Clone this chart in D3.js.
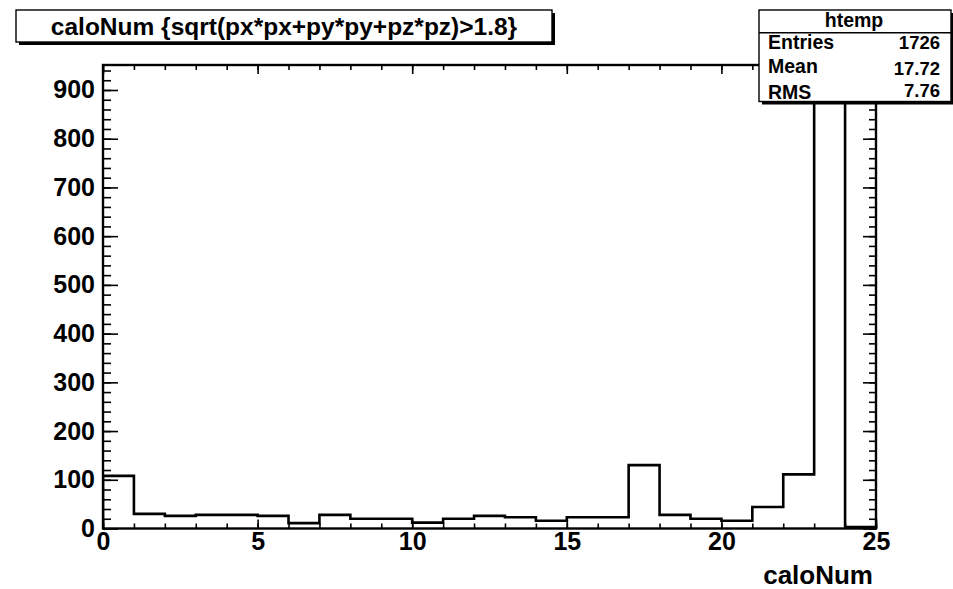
<!DOCTYPE html>
<html>
<head>
<meta charset="utf-8">
<script src="https://cdn.jsdelivr.net/npm/d3@7"></script>
<style>
  html, body { margin: 0; padding: 0; background: #fff; }
  svg { display: block; }
  text { font-family: "Liberation Sans", Arial, sans-serif; font-weight: bold; fill: #000; }
</style>
</head>
<body>
<svg id="chart" width="953" height="589"></svg>
<script>
// caloNum histogram: 25 unit-wide bins from 0 to 25
const binEdges = [0, 25];
const binCounts = [108, 30, 26, 28, 28, 26, 11, 28, 20, 20, 12, 20, 26, 23, 16, 23, 23, 130, 28, 20, 16, 44, 111, 906, 3];
const xTickLabels = [0, 5, 10, 15, 20, 25];
const yTickLabels = [0, 100, 200, 300, 400, 500, 600, 700, 800, 900];
const titleText = "caloNum {sqrt(px*px+py*py+pz*pz)>1.8}";
const histName = "htemp";
const xTitle = "caloNum";

const svg = d3.select("#chart");
const W = 953, H = 589;
const frame = { left: 103, right: 876, top: 65, bottom: 528.5 };
const FONT = '"Liberation Sans", Arial, sans-serif';

svg.append("rect").attr("width", W).attr("height", H).attr("fill", "#fff");

const nBins = binCounts.length;
const binWidth = (binEdges[1] - binEdges[0]) / nBins;
const yMax = d3.max(binCounts) * 1.05;

const x = d3.scaleLinear().domain(binEdges).range([frame.left, frame.right]);
const y = d3.scaleLinear().domain([0, yMax]).range([frame.bottom, frame.top]);

// statistics from the bin contents (bin value = lower edge, integer caloNum)
const entries = d3.sum(binCounts);
const mean = d3.sum(binCounts, (c, i) => c * (binEdges[0] + i * binWidth)) / entries;
const meanSq = d3.sum(binCounts, (c, i) => c * Math.pow(binEdges[0] + i * binWidth, 2)) / entries;
const rms = Math.sqrt(meanSq - mean * mean);

// histogram outline (step line)
const clipId = "frameClip";
svg.append("clipPath").attr("id", clipId)
  .append("rect")
  .attr("x", frame.left).attr("y", frame.top)
  .attr("width", frame.right - frame.left).attr("height", frame.bottom - frame.top);

const path = d3.path();
path.moveTo(x(binEdges[0]), y(0));
binCounts.forEach((c, i) => {
  const x0 = x(binEdges[0] + i * binWidth);
  const x1 = x(binEdges[0] + (i + 1) * binWidth);
  path.lineTo(x0, y(c));
  path.lineTo(x1, y(c));
});
path.lineTo(x(binEdges[1]), y(0));

svg.append("path")
  .attr("d", path.toString())
  .attr("clip-path", `url(#${clipId})`)
  .attr("fill", "none")
  .attr("stroke", "#000")
  .attr("stroke-width", 2.6)
  .attr("stroke-linejoin", "miter");

// axes: ticks on all four sides, pointing inward
const yMinor = d3.range(0, yMax + 0.001, 20);
const xMinor = d3.range(binEdges[0], binEdges[1] + 0.001, 1);

function styleAxis(g) {
  g.select(".domain").remove();
  g.selectAll(".tick line").attr("stroke", "#000").attr("stroke-width", 1.6);
  g.attr("font-family", FONT).attr("font-weight", "bold");
}

// left
svg.append("g").attr("transform", `translate(${frame.left},0)`)
  .call(d3.axisLeft(y).tickValues(yMinor).tickSize(-8).tickFormat(""))
  .call(styleAxis);
svg.append("g").attr("transform", `translate(${frame.left},0)`)
  .call(d3.axisLeft(y).tickValues(yTickLabels).tickSize(-15).tickPadding(8).tickFormat(d3.format("d")))
  .call(styleAxis)
  .call(g => g.selectAll("text").attr("font-size", 25).attr("fill", "#000"));

// right
svg.append("g").attr("transform", `translate(${frame.right},0)`)
  .call(d3.axisRight(y).tickValues(yMinor).tickSize(-7).tickFormat(""))
  .call(styleAxis);
svg.append("g").attr("transform", `translate(${frame.right},0)`)
  .call(d3.axisRight(y).tickValues(yTickLabels).tickSize(-13).tickFormat(""))
  .call(styleAxis);

// bottom
svg.append("g").attr("transform", `translate(0,${frame.bottom})`)
  .call(d3.axisBottom(x).tickValues(xMinor).tickSize(-5).tickFormat(""))
  .call(styleAxis);
svg.append("g").attr("transform", `translate(0,${frame.bottom})`)
  .call(d3.axisBottom(x).tickValues(xTickLabels).tickSize(-9).tickPadding(4).tickFormat(d3.format("d")))
  .call(styleAxis)
  .call(g => g.selectAll("text").attr("font-size", 25).attr("fill", "#000"));

// top
svg.append("g").attr("transform", `translate(0,${frame.top})`)
  .call(d3.axisTop(x).tickValues(xMinor).tickSize(-5).tickFormat(""))
  .call(styleAxis);
svg.append("g").attr("transform", `translate(0,${frame.top})`)
  .call(d3.axisTop(x).tickValues(xTickLabels).tickSize(-9).tickFormat(""))
  .call(styleAxis);

// frame
svg.append("rect")
  .attr("x", frame.left).attr("y", frame.top)
  .attr("width", frame.right - frame.left).attr("height", frame.bottom - frame.top)
  .attr("fill", "none").attr("stroke", "#000").attr("stroke-width", 2.4);

// x-axis title
svg.append("text")
  .attr("x", 873).attr("y", 584)
  .attr("text-anchor", "end")
  .attr("font-size", 26)
  .text(xTitle);

// title box with drop shadow
const tb = { x: 16, y: 10, w: 536, h: 32 };
svg.append("rect").attr("x", tb.x + 3).attr("y", tb.y + 3).attr("width", tb.w).attr("height", tb.h).attr("fill", "#000");
svg.append("rect").attr("x", tb.x).attr("y", tb.y).attr("width", tb.w).attr("height", tb.h)
  .attr("fill", "#fff").attr("stroke", "#000").attr("stroke-width", 1.4);
svg.append("text")
  .attr("x", 284).attr("y", 35)
  .attr("text-anchor", "middle")
  .attr("font-size", 24.5)
  .text(titleText);

// statistics box with drop shadow
const sb = { x: 759, y: 10, w: 192, h: 91.5 };
svg.append("rect").attr("x", sb.x + 3).attr("y", sb.y + 3).attr("width", sb.w).attr("height", sb.h).attr("fill", "#000");
svg.append("rect").attr("x", sb.x).attr("y", sb.y).attr("width", sb.w).attr("height", sb.h)
  .attr("fill", "#fff").attr("stroke", "#000").attr("stroke-width", 1.4);
svg.append("line")
  .attr("x1", sb.x).attr("x2", sb.x + sb.w)
  .attr("y1", 32.7).attr("y2", 32.7)
  .attr("stroke", "#000").attr("stroke-width", 1.4);
svg.append("text")
  .attr("x", 854).attr("y", 26.5)
  .attr("text-anchor", "middle")
  .attr("font-size", 19.5)
  .text(histName);

const statRows = [
  { label: "Entries", value: d3.format("d")(entries), ly: 49.3, vy: 49 },
  { label: "Mean", value: d3.format(".2f")(mean), ly: 73.3, vy: 75 },
  { label: "RMS", value: d3.format(".2f")(rms), ly: 98.5, vy: 96.5 }
];
statRows.forEach(r => {
  svg.append("text").attr("x", 768).attr("y", r.ly).attr("font-size", 19.5).text(r.label);
  svg.append("text").attr("x", 940).attr("y", r.vy).attr("text-anchor", "end").attr("font-size", 18.5).text(r.value);
});
</script>
</body>
</html>
